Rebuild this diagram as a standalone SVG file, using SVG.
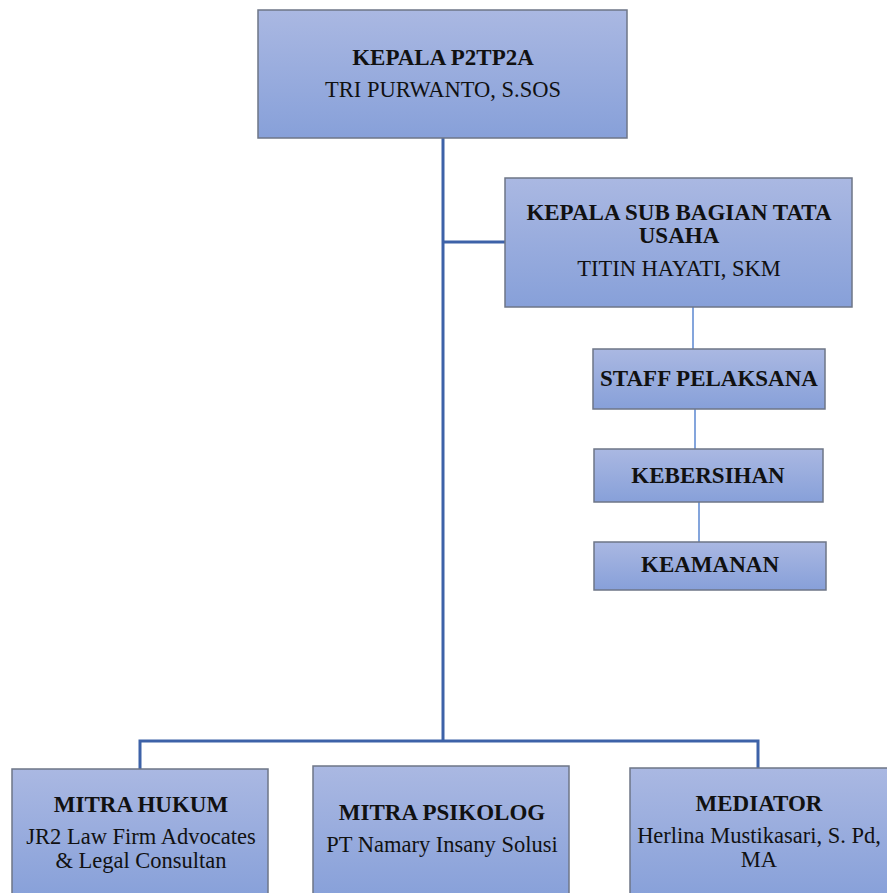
<svg xmlns="http://www.w3.org/2000/svg" width="887" height="893" viewBox="0 0 887 893">
<style>
.box{fill:url(#g);stroke:#6e7687;stroke-width:1.5}
.t{font-family:"Liberation Serif","Times New Roman",serif;font-size:22.5px;fill:#111;text-anchor:middle}
.b{font-weight:bold;font-size:23px}
.thick{stroke:#3d62a8;stroke-width:3;fill:none}
.thin{stroke:#5b87d0;stroke-width:1.5;fill:none}
</style>
<defs>
<linearGradient id="g" x1="0" y1="0" x2="0" y2="1">
<stop offset="0" stop-color="#aab8e2"/>
<stop offset="1" stop-color="#87a0d9"/>
</linearGradient>
</defs>
<rect width="887" height="893" fill="#fff"/>
<g id="connectors">
<path class="thick" d="M443 138 V741"/>
<path class="thick" d="M443 242 H505"/>
<path class="thick" d="M140 769 V741 H758 V768"/>
<path class="thin" d="M693 307 V349"/>
<path class="thin" d="M695 409 V449"/>
<path class="thin" d="M699 502 V542"/>
</g>
<g id="kepala">
<rect class="box" x="258" y="10" width="369" height="128"/>
<text class="t b" x="443" y="65">KEPALA P2TP2A</text>
<text class="t" x="443" y="97">TRI PURWANTO, S.SOS</text>
</g>
<g id="subbagian">
<rect class="box" x="505" y="178" width="347" height="129"/>
<text class="t b" x="679" y="220">KEPALA SUB BAGIAN TATA</text>
<text class="t b" x="679" y="243">USAHA</text>
<text class="t" x="679" y="276">TITIN HAYATI, SKM</text>
</g>
<g id="staff">
<rect class="box" x="593" y="349" width="232" height="60"/>
<text class="t b" x="709" y="386">STAFF PELAKSANA</text>
</g>
<g id="kebersihan">
<rect class="box" x="594" y="449" width="229" height="53"/>
<text class="t b" x="708" y="483">KEBERSIHAN</text>
</g>
<g id="keamanan">
<rect class="box" x="594" y="542" width="232" height="48"/>
<text class="t b" x="710" y="572">KEAMANAN</text>
</g>
<g id="mitrahukum">
<rect class="box" x="12" y="769" width="256" height="130"/>
<text class="t b" x="141" y="812">MITRA HUKUM</text>
<text class="t" x="141" y="844">JR2 Law Firm Advocates</text>
<text class="t" x="141" y="868">&amp; Legal Consultan</text>
</g>
<g id="mitrapsikolog">
<rect class="box" x="313" y="766" width="256" height="133"/>
<text class="t b" x="442" y="820">MITRA PSIKOLOG</text>
<text class="t" x="442" y="852">PT Namary Insany Solusi</text>
</g>
<g id="mediator">
<rect class="box" x="630" y="768" width="260" height="131"/>
<text class="t b" x="759" y="811">MEDIATOR</text>
<text class="t" x="759" y="843">Herlina Mustikasari, S. Pd,</text>
<text class="t" x="759" y="867">MA</text>
</g>
</svg>
